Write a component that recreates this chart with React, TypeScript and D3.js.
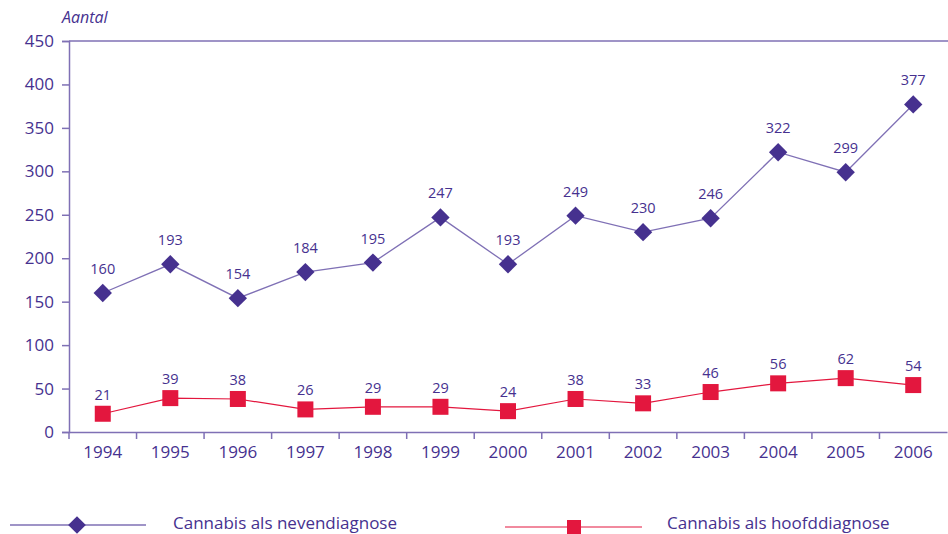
import { useEffect, useRef } from "react";
import * as d3 from "d3";

const years = ["1994", "1995", "1996", "1997", "1998", "1999", "2000", "2001", "2002", "2003", "2004", "2005", "2006"];
const nevendiagnose = [160, 193, 154, 184, 195, 247, 193, 249, 230, 246, 322, 299, 377];
const hoofddiagnose = [21, 39, 38, 26, 29, 29, 24, 38, 33, 46, 56, 62, 54];
const yTicks = [0, 50, 100, 150, 200, 250, 300, 350, 400, 450];

const PURPLE = "#46318f";
const AXIS = "#7f70b5";
const RED = "#e3173e";
const FONT = "'Open Sans', 'Noto Sans', sans-serif";

export default function App() {
  const ref = useRef<SVGSVGElement>(null);

  useEffect(() => {
    const svg = d3.select(ref.current);
    svg.selectAll("*").remove();

    const x = d3.scaleBand().domain(years).range([69, 947]);
    const y = d3.scaleLinear().domain([0, 450]).range([432, 41]);
    const cx = (d: string) => (x(d) as number) + x.bandwidth() / 2;

    // y label
    svg.append("text").attr("x", 62).attr("y", 23).attr("fill", PURPLE)
      .attr("font-family", FONT).attr("font-size", 16).attr("font-style", "italic").text("Aantal");

    // top gridline
    svg.append("line").attr("x1", 69).attr("x2", 948).attr("y1", y(450)).attr("y2", y(450))
      .attr("stroke", AXIS).attr("stroke-width", 1.5);

    // y axis
    const yAxis = svg.append("g").attr("transform", "translate(69,0)")
      .call(d3.axisLeft(y).tickValues(yTicks).tickSize(7).tickPadding(8));
    yAxis.select(".domain").attr("stroke", AXIS).attr("stroke-width", 1.5);
    yAxis.selectAll("line").attr("stroke", AXIS).attr("stroke-width", 1.5);
    yAxis.selectAll("text").attr("fill", PURPLE).attr("font-family", FONT).attr("font-size", 17);

    // x axis
    const xAxis = svg.append("g").attr("transform", `translate(0,${y(0)})`)
      .call(d3.axisBottom(x).tickSize(0).tickPadding(14));
    xAxis.select(".domain").attr("stroke", AXIS).attr("stroke-width", 1.5);
    xAxis.selectAll("text").attr("fill", PURPLE).attr("font-family", FONT).attr("font-size", 17);
    xAxis.selectAll("line.sep").data(years).enter().append("line").attr("class", "sep")
      .attr("x1", d => x(d) as number).attr("x2", d => x(d) as number)
      .attr("y1", 0).attr("y2", 7).attr("stroke", AXIS).attr("stroke-width", 1.5);

    const line = d3.line<number>().x((_, i) => cx(years[i])).y(d => y(d));

    // red series
    svg.append("path").datum(hoofddiagnose).attr("d", line).attr("fill", "none")
      .attr("stroke", RED).attr("stroke-width", 1.2);
    svg.selectAll("rect.pt").data(hoofddiagnose).enter().append("rect").attr("class", "pt")
      .attr("x", (_, i) => cx(years[i]) - 8).attr("y", d => y(d) - 8)
      .attr("width", 16).attr("height", 16).attr("fill", RED);
    svg.selectAll("text.lr").data(hoofddiagnose).enter().append("text").attr("class", "lr")
      .attr("x", (_, i) => cx(years[i])).attr("y", d => y(d) - 14)
      .attr("text-anchor", "middle").attr("fill", PURPLE).attr("font-family", FONT)
      .attr("font-size", 14.5).text(d => d);

    // purple series
    svg.append("path").datum(nevendiagnose).attr("d", line).attr("fill", "none")
      .attr("stroke", AXIS).attr("stroke-width", 1.3);
    const diamond = d3.symbol().type(d3.symbolDiamond2).size(215);
    svg.selectAll("path.pt").data(nevendiagnose).enter().append("path").attr("class", "pt")
      .attr("d", diamond)
      .attr("transform", (d, i) => `translate(${cx(years[i])},${y(d)})`).attr("fill", PURPLE);
    svg.selectAll("text.lp").data(nevendiagnose).enter().append("text").attr("class", "lp")
      .attr("x", (_, i) => cx(years[i])).attr("y", d => y(d) - 19)
      .attr("text-anchor", "middle").attr("fill", PURPLE).attr("font-family", FONT)
      .attr("font-size", 14.5).text(d => d);

    // legend
    const lg1 = svg.append("g");
    lg1.append("line").attr("x1", 10).attr("x2", 146).attr("y1", 525).attr("y2", 525)
      .attr("stroke", AXIS).attr("stroke-width", 1.3);
    lg1.append("path").attr("d", d3.symbol().type(d3.symbolDiamond2).size(200))
      .attr("transform", "translate(77,525)").attr("fill", PURPLE);
    lg1.append("text").attr("x", 173).attr("y", 529).attr("fill", PURPLE)
      .attr("font-family", FONT).attr("font-size", 17).text("Cannabis als nevendiagnose");

    const lg2 = svg.append("g");
    lg2.append("line").attr("x1", 505).attr("x2", 642).attr("y1", 527).attr("y2", 527)
      .attr("stroke", RED).attr("stroke-width", 1.2);
    lg2.append("rect").attr("x", 567).attr("y", 520).attr("width", 14).attr("height", 14).attr("fill", RED);
    lg2.append("text").attr("x", 667).attr("y", 529).attr("fill", PURPLE)
      .attr("font-family", FONT).attr("font-size", 17).text("Cannabis als hoofddiagnose");
  }, []);

  return (
    <svg ref={ref} width={948} height={534}
      style={{ position: "absolute", left: 0, top: 0, background: "#fff" }} />
  );
}
